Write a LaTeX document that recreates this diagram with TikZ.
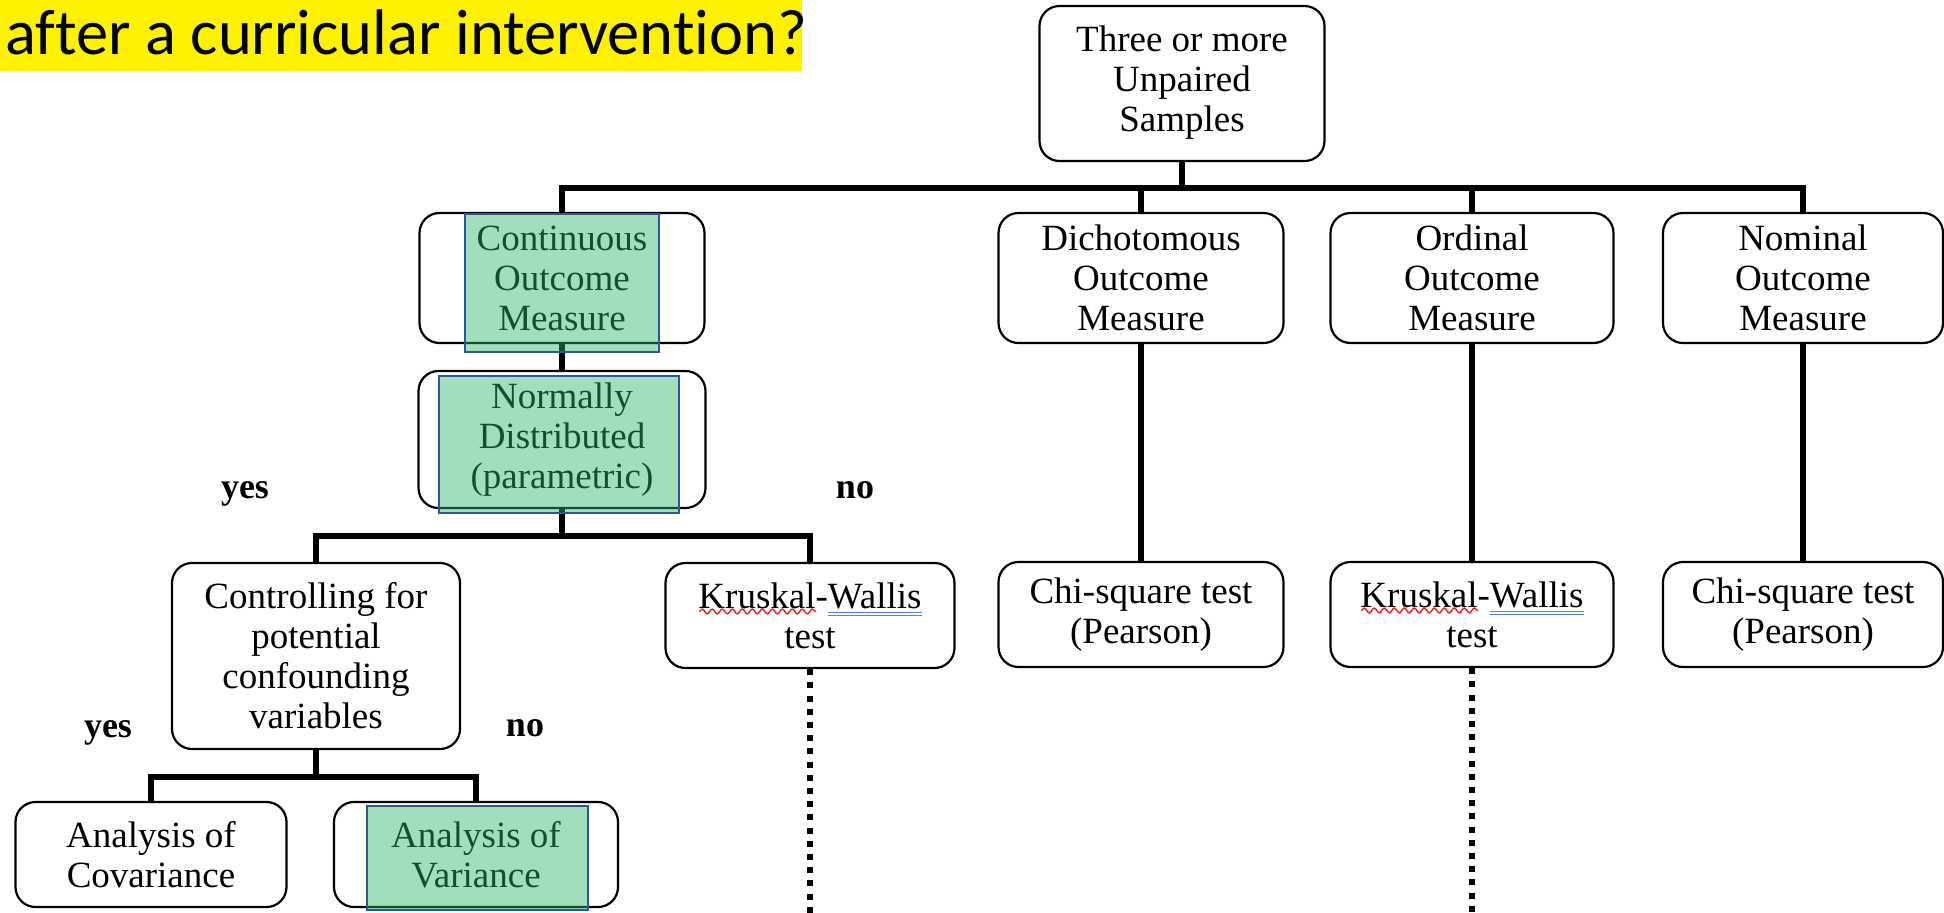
\documentclass[tikz,border=0pt]{standalone}
\usepackage{fontspec}
\setmainfont{Liberation Serif}
\newfontfamily\titlefont[Ligatures=NoCommon]{Carlito}
\usetikzlibrary{calc,decorations.pathmorphing}

\definecolor{hlgreen}{RGB}{45,182,102}
\definecolor{hlblue}{RGB}{47,85,151}
\definecolor{kwred}{RGB}{235,30,30}
\definecolor{kwblue}{RGB}{80,130,225}

% spell-check style marks under the test name
\newdimen\kwmarkwd
\newsavebox\kwmarkbox
\newcommand\spellwave[1]{\sbox\kwmarkbox{#1}\global\kwmarkwd=\wd\kwmarkbox
  \rlap{\smash{\raisebox{-3.2pt}{\tikz[x=1pt,y=1pt,sharp corners]\draw[kwred,line width=0.7pt,
    sharp corners,decorate,decoration={snake,amplitude=1.2pt,segment length=5pt}]
    (0,0) -- (\kwmarkwd,0);}}}\usebox\kwmarkbox}
\newcommand\grammarline[1]{\sbox\kwmarkbox{#1}%
  \rlap{\smash{\raisebox{-4pt}{\color{kwblue}\vbox{\hrule width\wd\kwmarkbox height .8pt
    \kern.7pt\hrule width\wd\kwmarkbox height .8pt}}}}\usebox\kwmarkbox}

\begin{document}
\begin{tikzpicture}[x=0.5pt,y=-0.5pt,
  box/.style={draw=black,line width=1.1pt,rounded corners=10pt,align=center,
    inner sep=0pt,font=\fontsize{18.5}{20}\selectfont},
  conn/.style={line width=3pt},
  dots/.style={line width=3pt,dash pattern=on 3pt off 3.6pt},
  hl/.style={fill=hlgreen,fill opacity=0.44,draw=hlblue,draw opacity=1,line width=1pt},
  lab/.style={inner sep=0pt,font=\fontsize{18}{20}\selectfont\bfseries}]

\fill[white] (0,0) rectangle (1944,912);
\useasboundingbox (0,0) rectangle (1944,912);

% heading strip
\fill[yellow] (0,0) rectangle (802,71);
\node[anchor=base west,inner sep=0pt,font=\titlefont\fontsize{32.2}{36}\selectfont]
  (title) at (5,54) {after a curricular intervention?};

% decision boxes
\node[box,minimum width=142.5pt,minimum height=77.5pt] (root) at (1182,83.5)
  {Three or more\\Unpaired\\Samples\\[-15pt]};
\node[box,minimum width=142.5pt,minimum height=65pt] (cont) at (562,278)
  {Continuous\\Outcome\\Measure};
\node[box,minimum width=143.5pt,minimum height=68.5pt] (norm) at (562,439.5)
  {Normally\\Distributed\\(parametric)};
\node[box,minimum width=142.5pt,minimum height=65pt] (dich) at (1141,278)
  {Dichotomous\\Outcome\\Measure};
\node[box,minimum width=141.5pt,minimum height=65pt] (ord) at (1472,278)
  {Ordinal\\Outcome\\Measure};
\node[box,minimum width=140pt,minimum height=65pt] (nom) at (1803,278)
  {Nominal\\Outcome\\Measure};

\node[box,minimum width=144pt,minimum height=93pt] (ctrl) at (316,656)
  {Controlling for\\potential\\confounding\\variables};
\node[box,minimum width=144.5pt,minimum height=52.5pt] (kwa) at (810,615.5)
  {\spellwave{Kruskal}-\grammarline{Wallis}\\test};
\node[box,minimum width=142.5pt,minimum height=52.5pt] (chia) at (1141,614.5)
  {Chi-square test\\(Pearson)};
\node[box,minimum width=141.5pt,minimum height=52.5pt] (kwb) at (1472,614.5)
  {\spellwave{Kruskal}-\grammarline{Wallis}\\test};
\node[box,minimum width=140pt,minimum height=52.5pt] (chib) at (1803,614.5)
  {Chi-square test\\(Pearson)};

\node[box,minimum width=135.5pt,minimum height=52.5pt] (anc) at (151,854.5)
  {Analysis of\\Covariance};
\node[box,minimum width=142pt,minimum height=52.5pt] (anv) at (476,854.5)
  {Analysis of\\Variance};

% branch labels
\node[lab] (yesA) at (245,494) {yes};
\node[lab] (noA) at (855,490) {no};
\node[lab] (yesB) at (108,733) {yes};
\node[lab] (noB) at (525,728) {no};

% connectors
\coordinate (busA) at (0,188);
\coordinate (busB) at (0,536);
\coordinate (busC) at (0,777);
\coordinate (floor) at (0,916);

\draw[conn] (cont.north) -- (cont.north |- busA) -- (nom.north |- busA) -- (nom.north);
\draw[conn] (root.south) -- (root.south |- busA);
\draw[conn] (dich.north) -- (dich.north |- busA);
\draw[conn] (ord.north) -- (ord.north |- busA);

\draw[conn] (cont.south) -- (norm.north);
\draw[conn] (norm.south) -- (norm.south |- busB);
\draw[conn] (ctrl.north) -- (ctrl.north |- busB) -- (kwa.north |- busB) -- (kwa.north);

\draw[conn] (ctrl.south) -- (ctrl.south |- busC);
\draw[conn] (anc.north) -- (anc.north |- busC) -- (anv.north |- busC) -- (anv.north);

\draw[conn] (dich.south) -- (chia.north);
\draw[conn] (ord.south) -- (kwb.north);
\draw[conn] (nom.south) -- (chib.north);

\draw[dots] (kwa.south) -- (kwa.south |- floor);
\draw[dots] (kwb.south) -- (kwb.south |- floor);

% highlighted choices
\draw[hl] (465,214) rectangle (659,352);
\draw[hl] (439,376) rectangle (679,513);
\draw[hl] (367,806) rectangle (588,910);

\end{tikzpicture}
\end{document}
